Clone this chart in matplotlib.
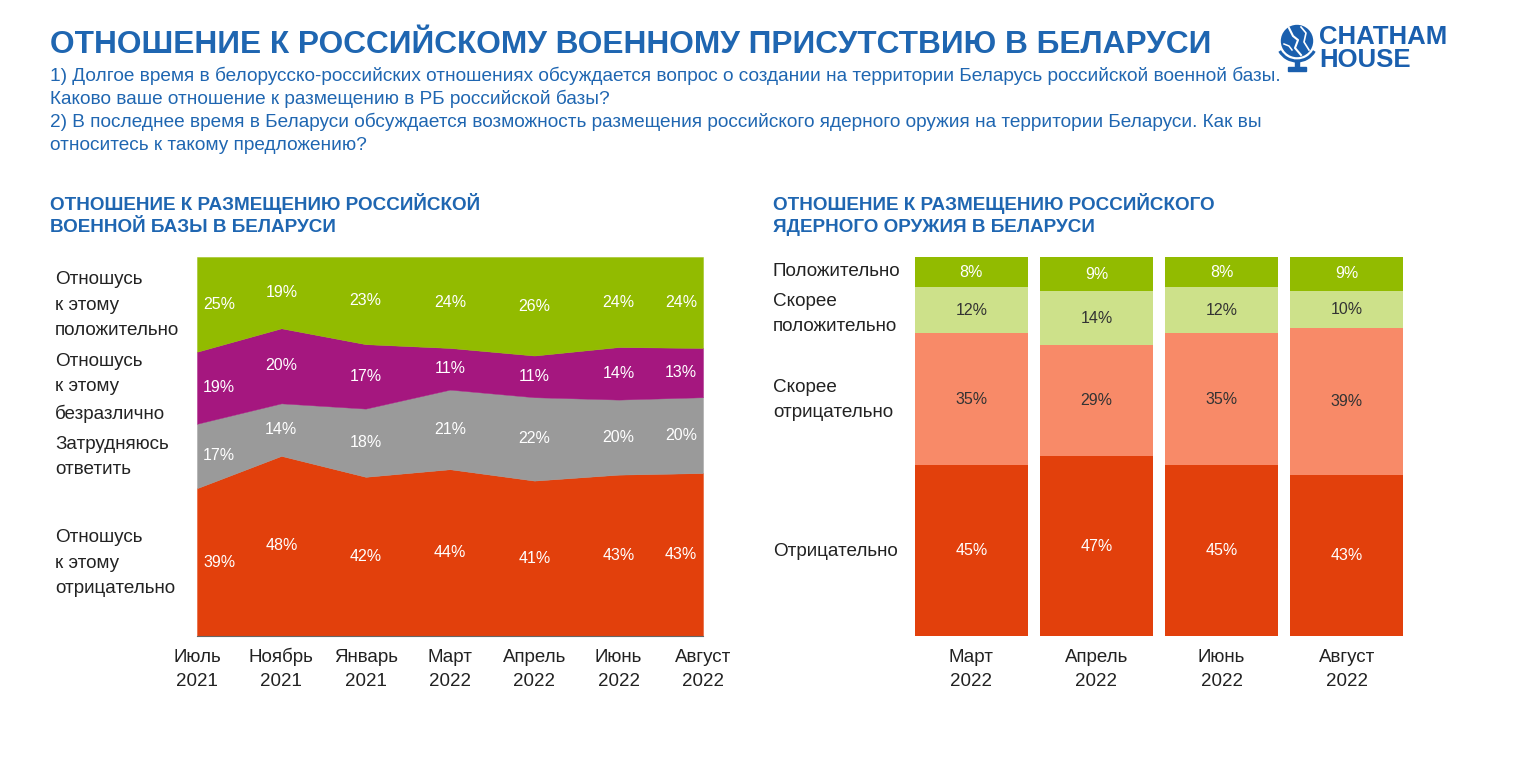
import matplotlib
matplotlib.use("Agg")
import matplotlib.pyplot as plt
import matplotlib.transforms as mt
import numpy as np
from matplotlib.patches import Circle, Rectangle, Arc

plt.rcParams['font.family'] = ['Liberation Sans', 'DejaVu Sans']

# ---------------- data ----------------
base_months = ["Июль\n2021", "Ноябрь\n2021", "Январь\n2021", "Март\n2022",
               "Апрель\n2022", "Июнь\n2022", "Август\n2022"]
base_negative = [39, 48, 42, 44, 41, 43, 43]
base_hard = [17, 14, 18, 21, 22, 20, 20]
base_indifferent = [19, 20, 17, 11, 11, 14, 13]
base_positive = [25, 19, 23, 24, 26, 24, 24]
base_labels = ["Отношусь\nк этому\nотрицательно", "Затрудняюсь\nответить",
               "Отношусь\nк этому\nбезразлично", "Отношусь\nк этому\nположительно"]

nuke_months = ["Март\n2022", "Апрель\n2022", "Июнь\n2022", "Август\n2022"]
nuke_negative = [45, 47, 45, 43]
nuke_rather_negative = [35, 29, 35, 39]
nuke_rather_positive = [12, 14, 12, 10]
nuke_positive = [8, 9, 8, 9]
nuke_labels = ["Отрицательно", "Скорее\nотрицательно", "Скорее\nположительно", "Положительно"]

title = "ОТНОШЕНИЕ К РОССИЙСКОМУ ВОЕННОМУ ПРИСУТСТВИЮ В БЕЛАРУСИ"
subtitle = ["1) Долгое время в белорусско-российских отношениях обсуждается вопрос о создании на территории Беларусь российской военной базы.",
            "Каково ваше отношение к размещению в РБ российской базы?",
            "2) В последнее время в Беларуси обсуждается возможность размещения российского ядерного оружия на территории Беларуси. Как вы",
            "относитесь к такому предложению?"]
left_title = "ОТНОШЕНИЕ К РАЗМЕЩЕНИЮ РОССИЙСКОЙ\nВОЕННОЙ БАЗЫ В БЕЛАРУСИ"
right_title = "ОТНОШЕНИЕ К РАЗМЕЩЕНИЮ РОССИЙСКОГО\nЯДЕРНОГО ОРУЖИЯ В БЕЛАРУСИ"

# ---------------- style ----------------
BLUE = "#1f66b1"
LOGO = "#1a5fae"
RED = "#e2400c"
GRAY = "#9a9a9a"
PURPLE = "#a5177f"
GREEN = "#92bb00"
LGREEN = "#cde18a"
SALMON = "#f88a68"
TXT = "#222222"

W, H = 1514, 780
fig = plt.figure(figsize=(W / 100, H / 100), dpi=100)
fig.patch.set_facecolor("white")


def px_axes(x0, y0, x1, y1):
    return fig.add_axes([x0 / W, 1 - y1 / H, (x1 - x0) / W, (y1 - y0) / H])


# overlay for titles
ov = fig.add_axes([0, 0, 1, 1], zorder=-1)
ov.set_xlim(0, W)
ov.set_ylim(H, 0)
ov.axis("off")

ov.text(50, 45, title, fontsize=22.8, fontweight="bold", color=BLUE, va="center", ha="left")
for i, line in enumerate(subtitle):
    ov.text(50, 76 + i * 23, line, fontsize=13.72, color=BLUE, va="center", ha="left")
for tx, txt in [(50, left_title), (773, right_title)]:
    for i, line in enumerate(txt.split("\n")):
        ov.text(tx, 204 + i * 23, line, fontsize=13.6, fontweight="bold", color=BLUE,
                va="center", ha="left")

# logo
ov.add_patch(Circle((1297, 41), 15.5, color=LOGO))
ov.plot([1289, 1293, 1298, 1295, 1301], [28, 36, 40, 48, 55], color="white", lw=1.5)
ov.plot([1301, 1306, 1304, 1309], [27, 33, 42, 50], color="white", lw=1.2)
ov.plot([1284, 1289, 1292], [44, 46, 50], color="white", lw=1.1)
ov.add_patch(Arc((1297, 41), 40, 40, angle=0, theta1=30, theta2=150, color=LOGO, lw=2.2))
ov.add_patch(Rectangle((1295, 60), 4, 8, color=LOGO))
ov.add_patch(Rectangle((1288, 67), 18, 3.5, color=LOGO))
ov.text(1319, 37, "CHATHAM", fontsize=18.5, fontweight="bold", color=LOGO, va="center", ha="left")
ov.text(1319, 60, "HOUSE", fontsize=18.5, fontweight="bold", color=LOGO, va="center", ha="left")


def month_labels(ax, xs, labels, fontsize=13.5):
    trans = mt.blended_transform_factory(ax.transData, ax.transAxes)
    ax.set_xticks([])
    h_ax = ax.get_position().height * H
    for xv, lab in zip(xs, labels):
        for i, line in enumerate(lab.split("\n")):
            ypx = 662 + i * 24  # baseline in figure pixels
            ax.text(xv, -(ypx - 636) / h_ax, line, transform=trans, ha="center",
                    va="baseline", fontsize=fontsize, color=TXT)


# ---------------- left chart ----------------
axL = px_axes(197, 257, 703, 636)
x = np.arange(len(base_months))
series = np.array([base_negative, base_hard, base_indifferent, base_positive], dtype=float)
totals = series.sum(axis=0)
norm = series / totals
colors_L = [RED, GRAY, PURPLE, GREEN]
axL.stackplot(x, norm, colors=colors_L, edgecolor="face", linewidth=0.3)
axL.set_xlim(0, len(x) - 1)
axL.set_ylim(0, 1)
axL.set_yticks([])
for s in ["top", "left", "right"]:
    axL.spines[s].set_visible(False)
axL.spines["bottom"].set_color("#666666")
axL.spines["bottom"].set_linewidth(0.8)
month_labels(axL, x, base_months)

cum = np.cumsum(norm, axis=0)
for k in range(norm.shape[0]):
    for j in range(len(x)):
        mid = cum[k, j] - norm[k, j] / 2
        ha = "center"
        xo = 0
        if j == 0:
            ha, xo = "left", 6
        elif j == len(x) - 1:
            ha, xo = "right", -6
        axL.annotate(f"{int(series[k, j])}%", (x[j], mid), xytext=(xo, 0),
                     textcoords="offset pixels", ha=ha, va="center",
                     fontsize=11.5, color="white")

# category labels left
left_label_y = [563, 457, 388, 305]
for lab, yy in zip(base_labels, left_label_y):
    ov.text(55, yy, lab, fontsize=13.6, color=TXT, va="center", ha="left", linespacing=1.62)

# ---------------- right chart ----------------
axR = px_axes(915, 257, 1403, 636)
xr = np.arange(len(nuke_months))
ser_R = np.array([nuke_negative, nuke_rather_negative, nuke_rather_positive, nuke_positive], dtype=float)
tot_R = ser_R.sum(axis=0)
norm_R = ser_R / tot_R
colors_R = [RED, SALMON, LGREEN, GREEN]
txtcol_R = ["white", "#333333", "#333333", "white"]
bottom = np.zeros(len(xr))
for k in range(norm_R.shape[0]):
    axR.bar(xr, norm_R[k], bottom=bottom, width=0.9, color=colors_R[k], linewidth=0)
    for j in range(len(xr)):
        axR.text(xr[j], bottom[j] + norm_R[k, j] / 2, f"{int(ser_R[k, j])}%",
                 ha="center", va="center", fontsize=11.5, color=txtcol_R[k])
    bottom += norm_R[k]
axR.set_xlim(-0.45, len(xr) - 0.55)
axR.set_ylim(0, 1)
axR.set_yticks([])
for s in axR.spines.values():
    s.set_visible(False)
month_labels(axR, xr, nuke_months)

right_label_y = [551, 400, 314, 272]
for lab, yy in zip(nuke_labels, right_label_y):
    ov.text(773, yy, lab, fontsize=13.6, color=TXT, va="center", ha="left", linespacing=1.62)

fig.savefig("out.png", dpi=100, facecolor="white")
